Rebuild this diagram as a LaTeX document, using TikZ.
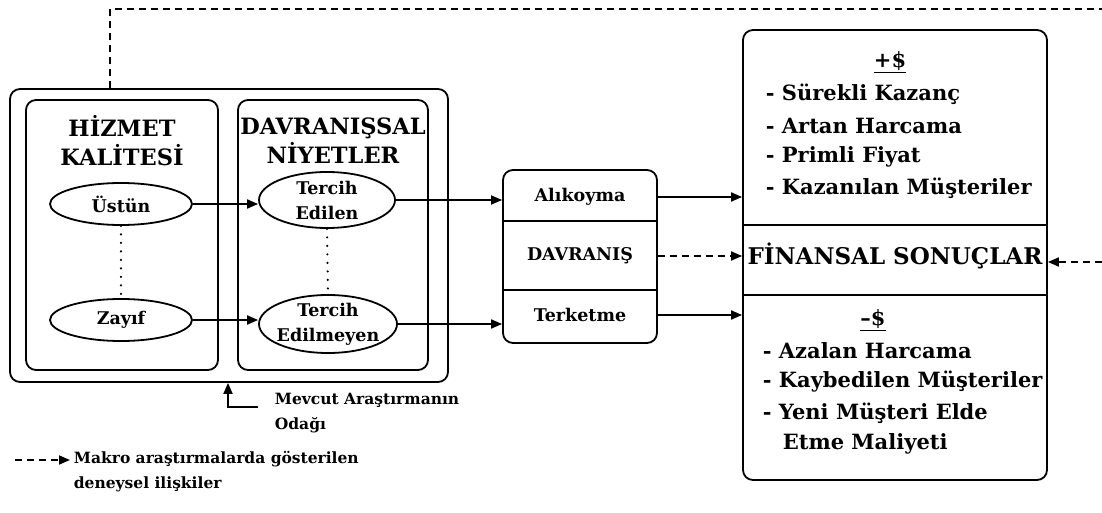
\documentclass[tikz,border=0pt]{standalone}
\usepackage{fontspec}
\setmainfont{DejaVu Serif}
\usetikzlibrary{arrows.meta,shapes.geometric}

\tikzset{
  box/.style={draw, rounded corners=10pt},
  oval/.style={draw, ellipse, inner sep=0pt},
  arr/.style={-{Triangle[length=11pt,width=9pt]}},
  dsh/.style={dash pattern=on 7pt off 5pt},
  dotline/.style={line width=2.4pt, line cap=round, dash pattern=on 0pt off 8.5pt},
  ttl/.style={font=\fontsize{22.5}{29}\selectfont\bfseries, align=center, inner sep=0pt},
  lbl/.style={font=\fontsize{17.5}{25}\selectfont\bfseries, align=center, inner sep=0pt},
  mid/.style={font=\fontsize{17.5}{20}\selectfont\bfseries, inner sep=0pt},
  big/.style={font=\fontsize{21}{26}\selectfont\bfseries, inner sep=0pt},
  head/.style={font=\fontsize{23}{26}\selectfont\bfseries, inner sep=0pt},
  note/.style={font=\fontsize{15.5}{25}\selectfont\bfseries, align=left, inner sep=0pt},
}

\begin{document}
\begin{tikzpicture}[x=1pt, y=-1pt, line width=1.8pt]
\useasboundingbox (0,0) rectangle (1102,513);

% left group: service quality and behavioural intentions
\node[box, minimum width=438, minimum height=293] (outer) at (229,235.5) {};
\node[box, minimum width=192, minimum height=270] (hk) at (122,235) {};
\node[box, minimum width=190, minimum height=270] (dn) at (333,235) {};

\node[ttl] (hkt) at (122,141) {H\.IZMET\\KAL\.ITES\.I};
\node[ttl] (dnt) at (333,141) {DAVRANI\c{S}SAL\\N\.IYETLER};

\node[oval, minimum width=142, minimum height=42, label={[lbl]center:{Üstün}}] (ustun) at (121,204) {};
\node[oval, minimum width=142, minimum height=42, label={[lbl]center:{Zayıf}}] (zayif) at (121,320) {};
\node[oval, minimum width=136, minimum height=56, label={[lbl]center:{Tercih\\Edilen}}] (edilen) at (327,200) {};
\node[oval, minimum width=138, minimum height=58, label={[lbl]center:{Tercih\\Edilmeyen}}] (edilmeyen) at (328,324) {};

\draw[dotline] (ustun.south) -- (zayif.north);
\draw[dotline] (edilen.south) -- (edilmeyen.north);
\draw[arr] (ustun.east) -- (ustun.east -| edilen.west);
\draw[arr] (zayif.east) -- (zayif.east -| edilmeyen.west);

% behaviour box
\node[box, minimum width=154, minimum height=173] (beh) at (580,256.5) {};
\draw (503,221) -- (657,221);
\draw (503,290) -- (657,290);
\node[mid] (alik) at (580,197) {Alıkoyma};
\node[mid] (davr) at (580,256) {DAVRANI\c{S}};
\node[mid] (terk) at (580,315) {Terketme};

\draw[arr] (edilen.east) -- (edilen.east -| beh.west);
\draw[arr] (edilmeyen.east) -- (edilmeyen.east -| beh.west);

% financial outcomes box
\node[box, minimum width=304, minimum height=450] (fin) at (895,255) {};
\draw (743,225) -- (1047,225);
\draw (743,295) -- (1047,295);
\node[head] (fint) at (895,256) {F\.INANSAL SONU\c{C}LAR};

\node[big] (plus) at (890,62) {\underline{+\$}};
\node[big, anchor=west] (p1) at (765,94) {- Sürekli Kazanç};
\node[big, anchor=west] (p2) at (765,126) {- Artan Harcama};
\node[big, anchor=west] (p3) at (765,157) {- Primli Fiyat};
\node[big, anchor=west] (p4) at (765,188) {- Kazanılan Müşteriler};

\node[big] (minus) at (873,320) {\underline{–\$}};
\node[big, anchor=west] (m1) at (762,351) {- Azalan Harcama};
\node[big, anchor=west] (m2) at (762,382) {- Kaybedilen Müşteriler};
\node[big, anchor=west] (m3) at (762,413) {- Yeni Müşteri Elde};
\node[big, anchor=west] (m4) at (782,444) {Etme Maliyeti};

\draw[arr] (alik -| beh.east) -- (alik -| fin.west);
\draw[arr, dsh] (davr -| beh.east) -- (davr -| fin.west);
\draw[arr] (terk -| beh.east) -- (terk -| fin.west);

% feedback loop leaving the picture at the top and right
\coordinate (loopA) at (110,9);
\coordinate (loopB) at (1102,9);
\coordinate (loopC) at (1102,262);
\draw[dsh] (outer.north -| loopA) -- (loopA) -- (loopB);
\draw[arr, dsh] (loopC) -- (loopC -| fin.east);

% focus marker
\coordinate (fc) at (228,407);
\coordinate (fcend) at (258,407);
\draw[arr] (fcend) -- (fc) -- (fc |- outer.south);
\node[note, anchor=north west] (focus) at (274,392) {Mevcut Araştırmanın\\Odağı};

% legend
\coordinate (lg1) at (15,460);
\coordinate (lg2) at (70,460);
\draw[arr, dsh] (lg1) -- (lg2);
\node[note, anchor=north west] (legend) at (73,450) {Makro araştırmalarda gösterilen\\deneysel ilişkiler};
\end{tikzpicture}
\end{document}
